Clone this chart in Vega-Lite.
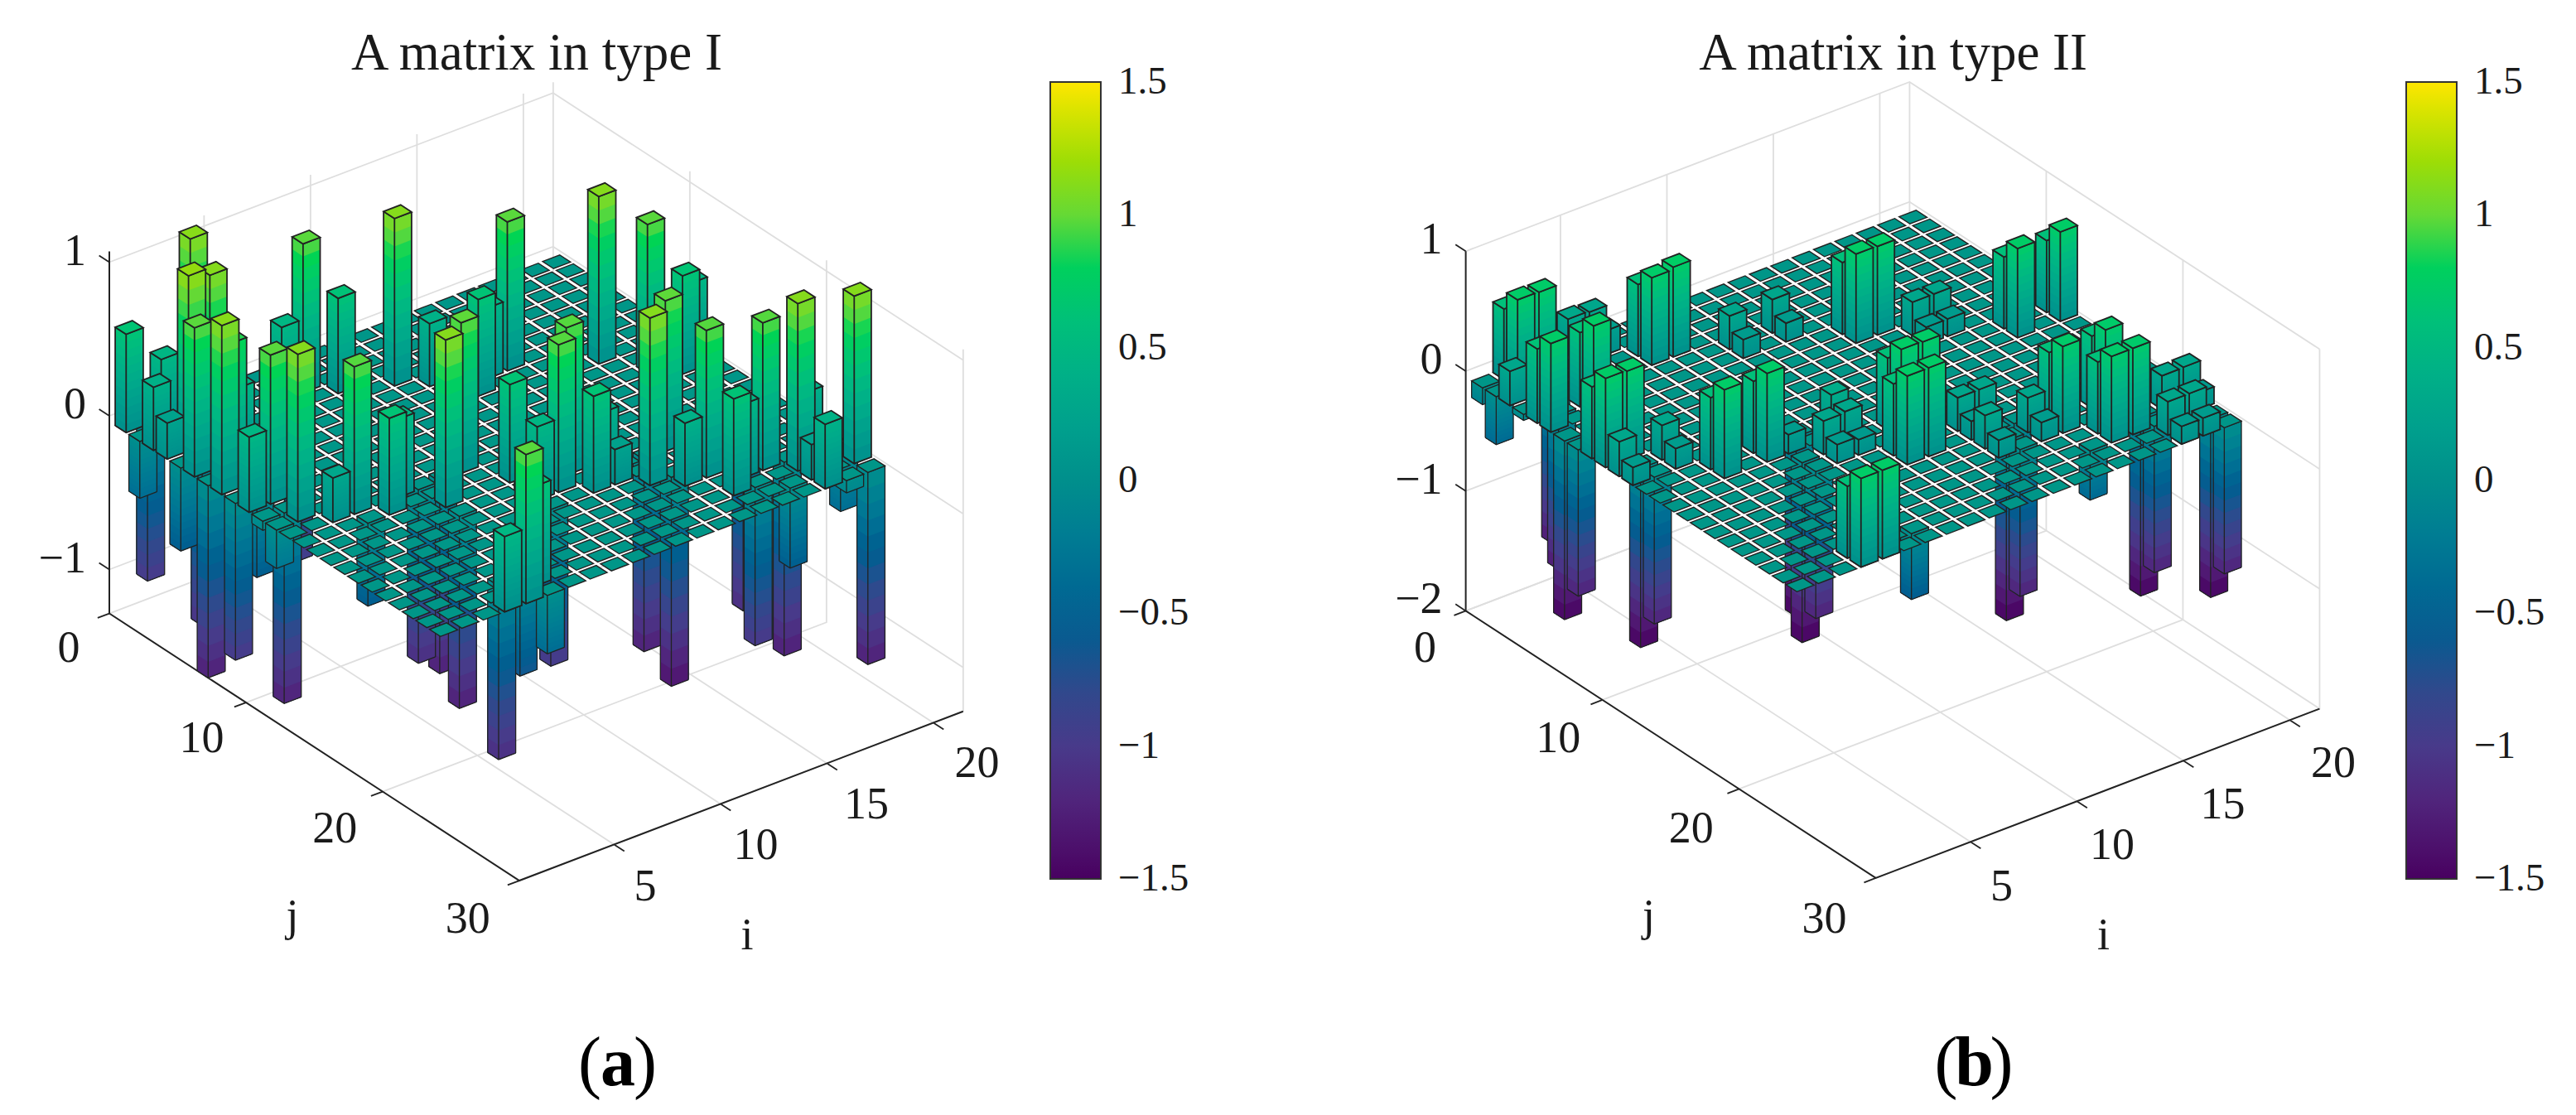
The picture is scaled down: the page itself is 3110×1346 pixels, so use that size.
{"$schema":"https://vega.github.io/schema/vega-lite/v6.json","width":3110,"height":1346,"padding":0,"autosize":{"type":"none"},"background":"white","config":{"view":{"stroke":null}},
"data":{"name":"bars"},
"transform":[
{"calculate":"[0,1,2,3,4,5,6,7,8,9,10,11,12,13]","as":"k"},{"flatten":["k"]},
{"calculate":"datum.p=='a'?139.5:1777.1","as":"X0"},{"calculate":"datum.p=='a'?503.3:449.3","as":"Y0"},{"calculate":"datum.p=='a'?185.5:144.7","as":"ZU"},
{"calculate":"datum.X0+25.8*datum.i+16.5*datum.j","as":"cx"},{"calculate":"datum.Y0-9.9*datum.i+10.7*datum.j","as":"cy"},
{"calculate":"datum.cx-16.92","as":"xl"},{"calculate":"datum.cx-3.72","as":"xf"},{"calculate":"datum.cx+16.92","as":"xr"},{"calculate":"datum.cx+3.72","as":"xb"},
{"calculate":"datum.cy-datum.ZU*(datum.k<12?datum.v*datum.k/12:0)","as":"y0"},{"calculate":"datum.cy-datum.ZU*datum.v","as":"y1"},
{"calculate":"datum.k<12?datum.v*(datum.k+0.5)/12:datum.v","as":"cv"},
{"calculate":"((20-datum.i)*100+datum.j)*100+datum.k","as":"ord"},
{"calculate":"datum.k<12?{type:'Feature',properties:{},geometry:{type:'Polygon',coordinates:[[[datum.xl,datum.y0-0.32],[datum.xf,datum.y0+8.24],[datum.xr,datum.y0+0.32],[datum.xr,datum.y1+0.32],[datum.xf,datum.y1+8.24],[datum.xl,datum.y1-0.32],[datum.xl,datum.y0-0.32]]]}}:datum.k==12?{type:'Feature',properties:{},geometry:{type:'MultiLineString',coordinates:[[[datum.xl,datum.y0-0.32],[datum.xf,datum.y0+8.24],[datum.xr,datum.y0+0.32],[datum.xr,datum.y1+0.32]],[[datum.xl,datum.y0-0.32],[datum.xl,datum.y1-0.32]],[[datum.xf,datum.y0+8.24],[datum.xf,datum.y1+8.24]],[[datum.xl,datum.y1-0.32],[datum.xf,datum.y1+8.24],[datum.xr,datum.y1+0.32]]]}}:{type:'Feature',properties:{},geometry:{type:'Polygon',coordinates:[[[datum.xl,datum.y1-0.32],[datum.xf,datum.y1+8.24],[datum.xr,datum.y1+0.32],[datum.xb,datum.y1-8.24],[datum.xl,datum.y1-0.32]]]}}","as":"geo"}
],
"resolve":{"scale":{"fill":"independent"},"legend":{"fill":"independent"}},
"layer":[
{"data":{"name":"axes"},
"transform":[{"filter":"datum.ax=='i'||datum.ax=='j'||datum.ax=='z'"},
{"calculate":"[0,1]","as":"g"},{"flatten":["g"]},
{"calculate":"datum.p=='a'?132:1769.6","as":"OX"},{"calculate":"datum.p=='a'?502:448","as":"OY"},{"calculate":"datum.p=='a'?185.5:144.7","as":"ZU"},{"calculate":"datum.p=='a'?-1.286:-2","as":"ZB"},{"calculate":"datum.p=='a'?1.07:1.0","as":"ZT"},
{"calculate":"datum.ax=='i'?datum.t:0.55","as":"i1"},{"calculate":"datum.ax=='i'?30:datum.ax=='j'?datum.t:0","as":"j1"},{"calculate":"datum.ax=='z'?datum.t:datum.ZB","as":"z1"},
{"calculate":"datum.ax=='i'?datum.t:21.4","as":"i2"},{"calculate":"datum.ax=='i'?0:datum.ax=='j'?datum.t:0","as":"j2"},
{"calculate":"datum.ax=='j'?datum.t:datum.ax=='z'?30:0","as":"j3"},{"calculate":"datum.ax=='z'?datum.t:datum.ZT","as":"z3"},
{"calculate":"datum.ax=='i'?datum.i1:datum.ax=='j'?0:datum.i1","as":"i4"},{"calculate":"datum.ax=='i'?30.75:datum.ax=='j'?datum.t:-0.75","as":"j4"},
{"calculate":"datum.OX+25.7*(datum.i1-0.55)+16.5*datum.j1","as":"x1"},{"calculate":"datum.OY-9.8*(datum.i1-0.55)+10.75*datum.j1-datum.ZU*datum.z1","as":"y1"},
{"calculate":"datum.OX+25.7*(datum.i2-0.55)+16.5*datum.j2","as":"x2"},{"calculate":"datum.OY-9.8*(datum.i2-0.55)+10.75*datum.j2-datum.ZU*datum.z1","as":"y2"},
{"calculate":"datum.OX+25.7*(datum.i2-0.55)+16.5*datum.j3","as":"x3"},{"calculate":"datum.OY-9.8*(datum.i2-0.55)+10.75*datum.j3-datum.ZU*datum.z3","as":"y3"},
{"calculate":"datum.OX+25.7*(datum.i4-0.55)+16.5*datum.j4","as":"x4"},{"calculate":"datum.OY-9.8*(datum.i4-0.55)+10.75*datum.j4-datum.ZU*datum.z1","as":"y4"},
{"calculate":"datum.g==0?{type:'Feature',properties:{},geometry:{type:'LineString',coordinates:[[datum.x1,datum.y1],[datum.x2,datum.y2],[datum.x3,datum.y3]]}}:{type:'Feature',properties:{},geometry:{type:'LineString',coordinates:[[datum.x1,datum.y1],[datum.x4,datum.y4]]}}","as":"geo"}],
"mark":{"type":"geoshape","filled":false,"strokeWidth":1.8},
"projection":{"type":"identity","scale":1,"translate":[0,0]},
"encoding":{"shape":{"field":"geo","type":"geojson"},"stroke":{"condition":{"test":"datum.g==1","value":"#222222"},"value":"#dedede"}}},
{"data":{"name":"axes"},
"transform":[{"filter":"datum.ax=='f'"},
{"calculate":"datum.p=='a'?132:1769.6","as":"OX"},{"calculate":"datum.p=='a'?502:448","as":"OY"},{"calculate":"datum.p=='a'?185.5:144.7","as":"ZU"},{"calculate":"datum.p=='a'?-1.286:-2","as":"ZB"},{"calculate":"datum.p=='a'?1.07:1.0","as":"ZT"},
{"calculate":"datum.OY-datum.ZU*datum.ZB","as":"YB"},
{"calculate":"{type:'Feature',properties:{},geometry:{type:'LineString',coordinates:[[datum.OX,datum.OY-datum.ZU*datum.ZT],[datum.OX,datum.YB],[datum.OX+495,datum.YB+322.5],[datum.OX+495+535.8,datum.YB+322.5-204.3]]}}","as":"geo"}],
"mark":{"type":"geoshape","filled":false,"strokeWidth":2,"stroke":"#222222"},
"projection":{"type":"identity","scale":1,"translate":[0,0]},
"encoding":{"shape":{"field":"geo","type":"geojson"}}},
{"transform":[{"filter":"datum.v<0&&datum.k<13"}],
"mark":{"type":"geoshape","strokeWidth":1.3},
"projection":{"type":"identity","scale":1,"translate":[0,0]},
"encoding":{"shape":{"field":"geo","type":"geojson"},"order":{"field":"ord","type":"quantitative"},
"fill":{"condition":{"test":"datum.k==12","value":"transparent"},"field":"cv","type":"quantitative","legend":null,"scale":{"domain":[-1.5,-1.25,-1,-0.8,-0.6,-0.5,0,0.5,0.85,0.95,1.12,1.25,1.5],"range":["#480060","#521E78","#483A8A","#31488C","#0A5A90","#006090","#008F8C","#00B882","#00D454","#50D840","#8FDB10","#A6DE00","#FFE600"]}},
"stroke":{"condition":{"test":"datum.k>=12","value":"#222222"},"value":"transparent"}}},
{"data":{"name":"grid"},
"transform":[{"calculate":"['a','b']","as":"p"},{"flatten":["p"]},
{"calculate":"(datum.p=='a'?139.5:1777.1)+25.8*datum.i+16.5*datum.j","as":"cx"},{"calculate":"(datum.p=='a'?503.3:449.3)-9.9*datum.i+10.7*datum.j","as":"cy"},
{"calculate":"{type:'Feature',properties:{},geometry:{type:'Polygon',coordinates:[[[datum.cx-16.92,datum.cy-0.32],[datum.cx-3.72,datum.cy+8.24],[datum.cx+16.92,datum.cy+0.32],[datum.cx+3.72,datum.cy-8.24],[datum.cx-16.92,datum.cy-0.32]]]}}","as":"geo"}],
"mark":{"type":"geoshape","fill":"#009688","stroke":"#222222","strokeWidth":1.4},
"projection":{"type":"identity","scale":1,"translate":[0,0]},
"encoding":{"shape":{"field":"geo","type":"geojson"}}},
{"transform":[{"filter":"datum.v>0&&datum.p=='a'"}],
"mark":{"type":"geoshape","strokeWidth":1.8},
"projection":{"type":"identity","scale":1,"translate":[0,0]},
"encoding":{"shape":{"field":"geo","type":"geojson"},"order":{"field":"ord","type":"quantitative"},
"fill":{"condition":{"test":"datum.k==12","value":"transparent"},"field":"cv","type":"quantitative","legend":{"orient":"none","legendX":1268,"legendY":99,"gradientLength":962,"gradientThickness":61,"title":null,"labelOpacity":0,"labelFontSize":1,"values":[-1.5,-1,-0.5,0,0.5,1,1.5],"gradientStrokeColor":"#333333","gradientStrokeWidth":2,"zindex":-1},"scale":{"domain":[-1.5,-1.25,-1,-0.8,-0.6,-0.5,0,0.5,0.85,0.95,1.12,1.25,1.5],"range":["#480060","#521E78","#483A8A","#31488C","#0A5A90","#006090","#008F8C","#00B882","#00D454","#50D840","#8FDB10","#A6DE00","#FFE600"]}},
"stroke":{"condition":{"test":"datum.k>=12","value":"#222222"},"value":"transparent"}}},
{"transform":[{"filter":"datum.v>0&&datum.p=='b'"}],
"mark":{"type":"geoshape","strokeWidth":1.8},
"projection":{"type":"identity","scale":1,"translate":[0,0]},
"encoding":{"shape":{"field":"geo","type":"geojson"},"order":{"field":"ord","type":"quantitative"},
"fill":{"condition":{"test":"datum.k==12","value":"transparent"},"field":"cv","type":"quantitative","legend":{"orient":"none","legendX":2905,"legendY":99,"gradientLength":962,"gradientThickness":61,"title":null,"labelOpacity":0,"labelFontSize":1,"values":[-1.5,-1,-0.5,0,0.5,1,1.5],"gradientStrokeColor":"#333333","gradientStrokeWidth":2,"zindex":-1},"scale":{"domain":[-1.5,-1.25,-1,-0.8,-0.6,-0.5,0,0.5,0.85,0.95,1.12,1.25,1.5],"range":["#480060","#521E78","#483A8A","#31488C","#0A5A90","#006090","#008F8C","#00B882","#00D454","#50D840","#8FDB10","#A6DE00","#FFE600"]}},
"stroke":{"condition":{"test":"datum.k>=12","value":"#222222"},"value":"transparent"}}},
{"data":{"name":"axes"},
"transform":[{"filter":"datum.ax=='c'"},{"calculate":"(datum.p=='a'?1329:2966)","as":"XB"},{"calculate":"99+(1.5-datum.t)/3*962","as":"yc"},
{"calculate":"{type:'Feature',properties:{},geometry:{type:'LineString',coordinates:[[datum.XB-11,datum.yc],[datum.XB,datum.yc]]}}","as":"geo"}],
"mark":{"type":"geoshape","filled":false,"stroke":"#222222","strokeWidth":2},
"projection":{"type":"identity","scale":1,"translate":[0,0]},
"encoding":{"shape":{"field":"geo","type":"geojson"}}},
{"data":{"name":"axes"},
"transform":[{"filter":"datum.lab!=null"},
{"calculate":"datum.p=='a'?132:1769.6","as":"OX"},{"calculate":"datum.p=='a'?502:448","as":"OY"},{"calculate":"datum.p=='a'?185.5:144.7","as":"ZU"},
{"calculate":"datum.ax=='i'?datum.OX+513.5+26.7*datum.t:datum.ax=='j'?datum.OX+16.06*datum.t-49:datum.ax=='z'?datum.OX-28:datum.ax=='c'?(datum.p=='a'?1350:2987):datum.ax=='ni'?datum.OX+770:datum.ax=='nj'?datum.OX+221:datum.ax=='T'?datum.OX+516:datum.ax=='cl'?datum.OX+580:datum.ax=='cm'?datum.OX+614:datum.OX+647","as":"tx"},
{"calculate":"datum.ax=='i'?1120.6-9.93*datum.t:datum.ax=='j'?783+10.9*datum.t:datum.ax=='z'?datum.OY-datum.ZU*datum.t-13:datum.ax=='c'?99+(1.5-datum.t)/3*962:datum.ax=='ni'?1130:datum.ax=='nj'?1107:datum.ax=='T'?65:1285","as":"ty"}],
"encoding":{"x":{"field":"tx","type":"quantitative","scale":{"domain":[0,3110],"range":[0,3110]},"axis":null},"y":{"field":"ty","type":"quantitative","scale":{"domain":[0,1346],"range":[0,1346]},"axis":null},"text":{"field":"lab"}},
"layer":[
{"transform":[{"filter":"datum.ax=='i'||datum.ax=='j'||datum.ax=='ni'||datum.ax=='nj'"}],"mark":{"type":"text","font":"Liberation Serif","fontSize":54,"align":"center","baseline":"middle","color":"#1a1a1a"}},
{"transform":[{"filter":"datum.ax=='z'"}],"mark":{"type":"text","font":"Liberation Serif","fontSize":54,"align":"right","baseline":"middle","color":"#1a1a1a"}},
{"transform":[{"filter":"datum.ax=='c'"}],"mark":{"type":"text","font":"Liberation Serif","fontSize":47,"align":"left","baseline":"middle","color":"#1a1a1a"}},
{"transform":[{"filter":"datum.ax=='T'"}],"mark":{"type":"text","font":"Liberation Serif","fontSize":63,"align":"center","baseline":"middle","color":"#1a1a1a"}},
{"transform":[{"filter":"datum.ax=='cl'||datum.ax=='cr'"}],"mark":{"type":"text","font":"Liberation Serif","fontSize":84,"align":"center","baseline":"middle","color":"#000000"}},
{"transform":[{"filter":"datum.ax=='cm'"}],"mark":{"type":"text","font":"Liberation Serif","fontSize":84,"fontWeight":"bold","align":"center","baseline":"middle","color":"#000000"}}
]}
],
"datasets":{
"axes":[
{"p":"a","ax":"f"},{"p":"b","ax":"f"},
{"p":"a","ax":"i","t":5,"lab":"5"},{"p":"a","ax":"i","t":10,"lab":"10"},{"p":"a","ax":"i","t":15,"lab":"15"},{"p":"a","ax":"i","t":20,"lab":"20"},
{"p":"a","ax":"j","t":0,"lab":"0"},{"p":"a","ax":"j","t":10,"lab":"10"},{"p":"a","ax":"j","t":20,"lab":"20"},{"p":"a","ax":"j","t":30,"lab":"30"},
{"p":"a","ax":"z","t":-1,"lab":"−1"},{"p":"a","ax":"z","t":0,"lab":"0"},{"p":"a","ax":"z","t":1,"lab":"1"},
{"p":"b","ax":"i","t":5,"lab":"5"},{"p":"b","ax":"i","t":10,"lab":"10"},{"p":"b","ax":"i","t":15,"lab":"15"},{"p":"b","ax":"i","t":20,"lab":"20"},
{"p":"b","ax":"j","t":0,"lab":"0"},{"p":"b","ax":"j","t":10,"lab":"10"},{"p":"b","ax":"j","t":20,"lab":"20"},{"p":"b","ax":"j","t":30,"lab":"30"},
{"p":"b","ax":"z","t":-2,"lab":"−2"},{"p":"b","ax":"z","t":-1,"lab":"−1"},{"p":"b","ax":"z","t":0,"lab":"0"},{"p":"b","ax":"z","t":1,"lab":"1"},
{"p":"a","ax":"c","t":-1.5,"lab":"−1.5"},{"p":"a","ax":"c","t":-1,"lab":"−1"},{"p":"a","ax":"c","t":-0.5,"lab":"−0.5"},{"p":"a","ax":"c","t":0,"lab":"0"},{"p":"a","ax":"c","t":0.5,"lab":"0.5"},{"p":"a","ax":"c","t":1,"lab":"1"},{"p":"a","ax":"c","t":1.5,"lab":"1.5"},
{"p":"b","ax":"c","t":-1.5,"lab":"−1.5"},{"p":"b","ax":"c","t":-1,"lab":"−1"},{"p":"b","ax":"c","t":-0.5,"lab":"−0.5"},{"p":"b","ax":"c","t":0,"lab":"0"},{"p":"b","ax":"c","t":0.5,"lab":"0.5"},{"p":"b","ax":"c","t":1,"lab":"1"},{"p":"b","ax":"c","t":1.5,"lab":"1.5"},
{"p":"a","ax":"ni","lab":"i"},{"p":"a","ax":"nj","lab":"j"},{"p":"b","ax":"ni","lab":"i"},{"p":"b","ax":"nj","lab":"j"},
{"p":"a","ax":"T","lab":"A matrix in type I"},{"p":"b","ax":"T","lab":"A matrix in type II"},
{"p":"a","ax":"cl","lab":"("},{"p":"a","ax":"cm","lab":"a"},{"p":"a","ax":"cr","lab":")"},
{"p":"b","ax":"cl","lab":"("},{"p":"b","ax":"cm","lab":"b"},{"p":"b","ax":"cr","lab":")"}
],
"bars":[
{"p":"a","i":0,"j":1,"v":0.64},{"p":"a","i":1,"j":2,"v":0.48},{"p":"a","i":0,"j":3,"v":0.41},{"p":"a","i":0,"j":4,"v":0.235},{"p":"a","i":1,"j":4,"v":1.14},{"p":"a","i":2,"j":4,"v":1.09},{"p":"a","i":3,"j":1,"v":1.1},{"p":"a","i":0,"j":6,"v":0.97},{"p":"a","i":0,"j":8,"v":1.1},{"p":"a","i":1,"j":7,"v":0.87},{"p":"a","i":2,"j":6,"v":0.47},{"p":"a","i":1,"j":10,"v":0.97},{"p":"a","i":1,"j":12,"v":1.09},{"p":"a","i":0,"j":10,"v":0.49},{"p":"a","i":2,"j":13,"v":0.29},{"p":"a","i":3,"j":13,"v":0.96},{"p":"a","i":7,"j":3,"v":0.97},{"p":"a","i":6,"j":3,"v":0.48},{"p":"a","i":8,"j":4,"v":0.62},{"p":"a","i":10,"j":5,"v":1.09},{"p":"a","i":4,"j":14,"v":0.63},{"p":"a","i":5,"j":13,"v":0.51},{"p":"a","i":11,"j":6,"v":0.41},{"p":"a","i":8,"j":13,"v":0.98},{"p":"a","i":6,"j":15,"v":1.09},{"p":"a","i":12,"j":8,"v":0.63},{"p":"a","i":13,"j":7,"v":0.46},{"p":"a","i":14,"j":7,"v":0.97},{"p":"a","i":9,"j":15,"v":0.64},{"p":"a","i":4,"j":24,"v":0.97},{"p":"a","i":3,"j":24,"v":0.49},{"p":"a","i":17,"j":9,"v":1.09},{"p":"a","i":18,"j":11,"v":0.97},{"p":"a","i":19,"j":12,"v":0.64},{"p":"a","i":20,"j":11,"v":0.48},{"p":"a","i":15,"j":17,"v":0.98},{"p":"a","i":13,"j":19,"v":1.09},{"p":"a","i":15,"j":20,"v":0.96},{"p":"a","i":17,"j":21,"v":0.96},{"p":"a","i":18,"j":22,"v":1.09},{"p":"a","i":20,"j":23,"v":1.09},{"p":"a","i":15,"j":22,"v":0.63},{"p":"a","i":16,"j":21,"v":0.48},{"p":"a","i":14,"j":20,"v":0.41},{"p":"a","i":18,"j":24,"v":0.42},{"p":"a","i":18,"j":23,"v":0.23},{"p":"a","i":19,"j":21,"v":0.4},{"p":"a","i":12,"j":18,"v":0.23},{"p":"a","i":11,"j":18,"v":0.63},{"p":"a","i":12,"j":17,"v":0.41},{"p":"a","i":10,"j":17,"v":0.96},{"p":"a","i":11,"j":16,"v":0.96},{"p":"a","i":9,"j":17,"v":0.48},{"p":"a","i":5,"j":23,"v":0.65},
{"p":"a","i":0,"j":2,"v":-0.37},{"p":"a","i":1,"j":1,"v":-1.02},{"p":"a","i":0,"j":5,"v":-0.54},{"p":"a","i":1,"j":5,"v":-1.08},{"p":"a","i":0,"j":7,"v":-1.25},{"p":"a","i":0,"j":9,"v":-1.02},{"p":"a","i":1,"j":9,"v":-0.535},{"p":"a","i":0,"j":11,"v":-0.06},{"p":"a","i":0,"j":12,"v":-0.25},{"p":"a","i":1,"j":11,"v":-1.24},{"p":"a","i":6,"j":4,"v":-0.99},{"p":"a","i":3,"j":14,"v":-0.54},{"p":"a","i":6,"j":13,"v":-1.13},{"p":"a","i":7,"j":13,"v":-1.25},{"p":"a","i":6,"j":16,"v":-1.25},{"p":"a","i":4,"j":22,"v":-1.13},{"p":"a","i":5,"j":22,"v":-0.64},{"p":"a","i":5,"j":24,"v":-0.38},{"p":"a","i":9,"j":18,"v":-1.02},{"p":"a","i":11,"j":13,"v":-1.22},{"p":"a","i":14,"j":17,"v":-1.25},{"p":"a","i":14,"j":19,"v":-1.36},{"p":"a","i":18,"j":18,"v":-1.14},{"p":"a","i":16,"j":22,"v":-1.03},{"p":"a","i":18,"j":21,"v":-1.26},{"p":"a","i":17,"j":23,"v":-0.52},{"p":"a","i":20,"j":22,"v":-0.37},{"p":"a","i":19,"j":24,"v":-0.08},{"p":"a","i":20,"j":24,"v":-1.25},
{"p":"b","i":1,"j":1,"v":0.59},{"p":"b","i":1,"j":2,"v":0.74},{"p":"b","i":2,"j":2,"v":0.735},{"p":"b","i":4,"j":1,"v":0.3},{"p":"b","i":5,"j":1,"v":0.29},{"p":"b","i":6,"j":3,"v":0.6},{"p":"b","i":6,"j":4,"v":0.73},{"p":"b","i":7,"j":4,"v":0.75},{"p":"b","i":0,"j":5,"v":0.62},{"p":"b","i":0,"j":6,"v":0.74},{"p":"b","i":2,"j":5,"v":0.62},{"p":"b","i":2,"j":6,"v":0.75},{"p":"b","i":0,"j":9,"v":0.6},{"p":"b","i":0,"j":10,"v":0.745},{"p":"b","i":1,"j":10,"v":0.737},{"p":"b","i":0,"j":3,"v":0.286},{"p":"b","i":0,"j":11,"v":0.29},{"p":"b","i":0,"j":12,"v":0.15},{"p":"b","i":3,"j":13,"v":0.6},{"p":"b","i":3,"j":14,"v":0.74},{"p":"b","i":5,"j":13,"v":0.6},{"p":"b","i":5,"j":14,"v":0.74},{"p":"b","i":2,"j":11,"v":0.29},{"p":"b","i":2,"j":12,"v":0.17},{"p":"b","i":9,"j":5,"v":0.28},{"p":"b","i":9,"j":6,"v":0.156},{"p":"b","i":11,"j":5,"v":0.28},{"p":"b","i":11,"j":6,"v":0.157},{"p":"b","i":8,"j":14,"v":0.355},{"p":"b","i":7,"j":15,"v":0.28},{"p":"b","i":8,"j":15,"v":0.29},{"p":"b","i":7,"j":16,"v":0.157},{"p":"b","i":8,"j":16,"v":0.13},{"p":"b","i":6,"j":14,"v":0.16},{"p":"b","i":13,"j":7,"v":0.6},{"p":"b","i":13,"j":8,"v":0.745},{"p":"b","i":14,"j":8,"v":0.74},{"p":"b","i":9,"j":17,"v":0.6},{"p":"b","i":9,"j":18,"v":0.74},{"p":"b","i":10,"j":18,"v":0.74},{"p":"b","i":10,"j":15,"v":0.6},{"p":"b","i":10,"j":16,"v":0.746},{"p":"b","i":11,"j":16,"v":0.74},{"p":"b","i":18,"j":11,"v":0.6},{"p":"b","i":18,"j":12,"v":0.744},{"p":"b","i":20,"j":11,"v":0.6},{"p":"b","i":20,"j":12,"v":0.746},{"p":"b","i":15,"j":19,"v":0.6},{"p":"b","i":15,"j":20,"v":0.724},{"p":"b","i":16,"j":21,"v":0.6},{"p":"b","i":16,"j":22,"v":0.72},{"p":"b","i":17,"j":22,"v":0.72},{"p":"b","i":17,"j":19,"v":0.6},{"p":"b","i":17,"j":20,"v":0.725},{"p":"b","i":14,"j":19,"v":0.29},{"p":"b","i":14,"j":20,"v":0.158},{"p":"b","i":19,"j":21,"v":0.28},{"p":"b","i":20,"j":21,"v":0.283},{"p":"b","i":18,"j":23,"v":0.28},{"p":"b","i":19,"j":23,"v":0.28},{"p":"b","i":20,"j":22,"v":0.14},{"p":"b","i":18,"j":24,"v":0.147},{"p":"b","i":19,"j":24,"v":0.148},{"p":"b","i":12,"j":19,"v":0.28},{"p":"b","i":12,"j":17,"v":0.28},{"p":"b","i":13,"j":17,"v":0.28},{"p":"b","i":12,"j":18,"v":0.157},{"p":"b","i":12,"j":20,"v":0.146},{"p":"b","i":15,"j":9,"v":0.28},{"p":"b","i":16,"j":9,"v":0.28},{"p":"b","i":15,"j":10,"v":0.145},{"p":"b","i":16,"j":10,"v":0.146},{"p":"b","i":5,"j":2,"v":0.2},{"p":"b","i":3,"j":23,"v":0.6},{"p":"b","i":3,"j":24,"v":0.74},{"p":"b","i":4,"j":24,"v":0.74},
{"p":"b","i":0,"j":1,"v":-0.14},{"p":"b","i":0,"j":2,"v":-0.4},{"p":"b","i":0,"j":4,"v":-0.05},{"p":"b","i":2,"j":3,"v":-1.29},{"p":"b","i":1,"j":5,"v":-1.29},{"p":"b","i":0,"j":7,"v":-1.49},{"p":"b","i":0,"j":8,"v":-1.22},{"p":"b","i":1,"j":11,"v":-1.496},{"p":"b","i":1,"j":12,"v":-1.225},{"p":"b","i":6,"j":15,"v":-1.5},{"p":"b","i":6,"j":16,"v":-1.226},{"p":"b","i":7,"j":13,"v":-1.5},{"p":"b","i":6,"j":23,"v":-0.55},{"p":"b","i":13,"j":19,"v":-1.5},{"p":"b","i":14,"j":18,"v":-1.43},{"p":"b","i":13,"j":20,"v":-1.225},{"p":"b","i":15,"j":22,"v":-0.41},{"p":"b","i":18,"j":21,"v":-1.49},{"p":"b","i":18,"j":22,"v":-1.22},{"p":"b","i":20,"j":23,"v":-1.49},{"p":"b","i":20,"j":24,"v":-1.22}
],
"grid":[
{"i":0,"j":1},{"i":0,"j":2},{"i":0,"j":3},{"i":0,"j":4},{"i":0,"j":5},{"i":0,"j":6},{"i":0,"j":7},{"i":0,"j":8},{"i":0,"j":9},{"i":0,"j":10},{"i":0,"j":11},{"i":0,"j":12},{"i":0,"j":13},{"i":0,"j":14},{"i":0,"j":15},{"i":0,"j":16},{"i":0,"j":17},{"i":0,"j":18},{"i":0,"j":19},{"i":0,"j":20},{"i":0,"j":21},{"i":0,"j":22},{"i":0,"j":23},{"i":0,"j":24},
{"i":1,"j":1},{"i":1,"j":2},{"i":1,"j":3},{"i":1,"j":4},{"i":1,"j":5},{"i":1,"j":6},{"i":1,"j":7},{"i":1,"j":8},{"i":1,"j":9},{"i":1,"j":10},{"i":1,"j":11},{"i":1,"j":12},{"i":1,"j":13},{"i":1,"j":14},{"i":1,"j":15},{"i":1,"j":16},{"i":1,"j":17},{"i":1,"j":18},{"i":1,"j":19},{"i":1,"j":20},{"i":1,"j":21},{"i":1,"j":22},{"i":1,"j":23},{"i":1,"j":24},
{"i":2,"j":1},{"i":2,"j":2},{"i":2,"j":3},{"i":2,"j":4},{"i":2,"j":5},{"i":2,"j":6},{"i":2,"j":7},{"i":2,"j":8},{"i":2,"j":9},{"i":2,"j":10},{"i":2,"j":11},{"i":2,"j":12},{"i":2,"j":13},{"i":2,"j":14},{"i":2,"j":15},{"i":2,"j":16},{"i":2,"j":17},{"i":2,"j":18},{"i":2,"j":19},{"i":2,"j":20},{"i":2,"j":21},{"i":2,"j":22},{"i":2,"j":23},{"i":2,"j":24},
{"i":3,"j":1},{"i":3,"j":2},{"i":3,"j":3},{"i":3,"j":4},{"i":3,"j":5},{"i":3,"j":6},{"i":3,"j":7},{"i":3,"j":8},{"i":3,"j":9},{"i":3,"j":10},{"i":3,"j":11},{"i":3,"j":12},{"i":3,"j":13},{"i":3,"j":14},{"i":3,"j":15},{"i":3,"j":16},{"i":3,"j":17},{"i":3,"j":18},{"i":3,"j":19},{"i":3,"j":20},{"i":3,"j":21},{"i":3,"j":22},{"i":3,"j":23},{"i":3,"j":24},
{"i":4,"j":1},{"i":4,"j":2},{"i":4,"j":3},{"i":4,"j":4},{"i":4,"j":5},{"i":4,"j":6},{"i":4,"j":7},{"i":4,"j":8},{"i":4,"j":9},{"i":4,"j":10},{"i":4,"j":11},{"i":4,"j":12},{"i":4,"j":13},{"i":4,"j":14},{"i":4,"j":15},{"i":4,"j":16},{"i":4,"j":17},{"i":4,"j":18},{"i":4,"j":19},{"i":4,"j":20},{"i":4,"j":21},{"i":4,"j":22},{"i":4,"j":23},{"i":4,"j":24},
{"i":5,"j":1},{"i":5,"j":2},{"i":5,"j":3},{"i":5,"j":4},{"i":5,"j":5},{"i":5,"j":6},{"i":5,"j":7},{"i":5,"j":8},{"i":5,"j":9},{"i":5,"j":10},{"i":5,"j":11},{"i":5,"j":12},{"i":5,"j":13},{"i":5,"j":14},{"i":5,"j":15},{"i":5,"j":16},{"i":5,"j":17},{"i":5,"j":18},{"i":5,"j":19},{"i":5,"j":20},{"i":5,"j":21},{"i":5,"j":22},{"i":5,"j":23},{"i":5,"j":24},
{"i":6,"j":1},{"i":6,"j":2},{"i":6,"j":3},{"i":6,"j":4},{"i":6,"j":5},{"i":6,"j":6},{"i":6,"j":7},{"i":6,"j":8},{"i":6,"j":9},{"i":6,"j":10},{"i":6,"j":11},{"i":6,"j":12},{"i":6,"j":13},{"i":6,"j":14},{"i":6,"j":15},{"i":6,"j":16},{"i":6,"j":17},{"i":6,"j":18},{"i":6,"j":19},{"i":6,"j":20},{"i":6,"j":21},{"i":6,"j":22},{"i":6,"j":23},{"i":6,"j":24},
{"i":7,"j":1},{"i":7,"j":2},{"i":7,"j":3},{"i":7,"j":4},{"i":7,"j":5},{"i":7,"j":6},{"i":7,"j":7},{"i":7,"j":8},{"i":7,"j":9},{"i":7,"j":10},{"i":7,"j":11},{"i":7,"j":12},{"i":7,"j":13},{"i":7,"j":14},{"i":7,"j":15},{"i":7,"j":16},{"i":7,"j":17},{"i":7,"j":18},{"i":7,"j":19},{"i":7,"j":20},{"i":7,"j":21},{"i":7,"j":22},{"i":7,"j":23},{"i":7,"j":24},
{"i":8,"j":1},{"i":8,"j":2},{"i":8,"j":3},{"i":8,"j":4},{"i":8,"j":5},{"i":8,"j":6},{"i":8,"j":7},{"i":8,"j":8},{"i":8,"j":9},{"i":8,"j":10},{"i":8,"j":11},{"i":8,"j":12},{"i":8,"j":13},{"i":8,"j":14},{"i":8,"j":15},{"i":8,"j":16},{"i":8,"j":17},{"i":8,"j":18},{"i":8,"j":19},{"i":8,"j":20},{"i":8,"j":21},{"i":8,"j":22},{"i":8,"j":23},{"i":8,"j":24},
{"i":9,"j":1},{"i":9,"j":2},{"i":9,"j":3},{"i":9,"j":4},{"i":9,"j":5},{"i":9,"j":6},{"i":9,"j":7},{"i":9,"j":8},{"i":9,"j":9},{"i":9,"j":10},{"i":9,"j":11},{"i":9,"j":12},{"i":9,"j":13},{"i":9,"j":14},{"i":9,"j":15},{"i":9,"j":16},{"i":9,"j":17},{"i":9,"j":18},{"i":9,"j":19},{"i":9,"j":20},{"i":9,"j":21},{"i":9,"j":22},{"i":9,"j":23},{"i":9,"j":24},
{"i":10,"j":1},{"i":10,"j":2},{"i":10,"j":3},{"i":10,"j":4},{"i":10,"j":5},{"i":10,"j":6},{"i":10,"j":7},{"i":10,"j":8},{"i":10,"j":9},{"i":10,"j":10},{"i":10,"j":11},{"i":10,"j":12},{"i":10,"j":13},{"i":10,"j":14},{"i":10,"j":15},{"i":10,"j":16},{"i":10,"j":17},{"i":10,"j":18},{"i":10,"j":19},{"i":10,"j":20},{"i":10,"j":21},{"i":10,"j":22},{"i":10,"j":23},{"i":10,"j":24},
{"i":11,"j":1},{"i":11,"j":2},{"i":11,"j":3},{"i":11,"j":4},{"i":11,"j":5},{"i":11,"j":6},{"i":11,"j":7},{"i":11,"j":8},{"i":11,"j":9},{"i":11,"j":10},{"i":11,"j":11},{"i":11,"j":12},{"i":11,"j":13},{"i":11,"j":14},{"i":11,"j":15},{"i":11,"j":16},{"i":11,"j":17},{"i":11,"j":18},{"i":11,"j":19},{"i":11,"j":20},{"i":11,"j":21},{"i":11,"j":22},{"i":11,"j":23},{"i":11,"j":24},
{"i":12,"j":1},{"i":12,"j":2},{"i":12,"j":3},{"i":12,"j":4},{"i":12,"j":5},{"i":12,"j":6},{"i":12,"j":7},{"i":12,"j":8},{"i":12,"j":9},{"i":12,"j":10},{"i":12,"j":11},{"i":12,"j":12},{"i":12,"j":13},{"i":12,"j":14},{"i":12,"j":15},{"i":12,"j":16},{"i":12,"j":17},{"i":12,"j":18},{"i":12,"j":19},{"i":12,"j":20},{"i":12,"j":21},{"i":12,"j":22},{"i":12,"j":23},{"i":12,"j":24},
{"i":13,"j":1},{"i":13,"j":2},{"i":13,"j":3},{"i":13,"j":4},{"i":13,"j":5},{"i":13,"j":6},{"i":13,"j":7},{"i":13,"j":8},{"i":13,"j":9},{"i":13,"j":10},{"i":13,"j":11},{"i":13,"j":12},{"i":13,"j":13},{"i":13,"j":14},{"i":13,"j":15},{"i":13,"j":16},{"i":13,"j":17},{"i":13,"j":18},{"i":13,"j":19},{"i":13,"j":20},{"i":13,"j":21},{"i":13,"j":22},{"i":13,"j":23},{"i":13,"j":24},
{"i":14,"j":1},{"i":14,"j":2},{"i":14,"j":3},{"i":14,"j":4},{"i":14,"j":5},{"i":14,"j":6},{"i":14,"j":7},{"i":14,"j":8},{"i":14,"j":9},{"i":14,"j":10},{"i":14,"j":11},{"i":14,"j":12},{"i":14,"j":13},{"i":14,"j":14},{"i":14,"j":15},{"i":14,"j":16},{"i":14,"j":17},{"i":14,"j":18},{"i":14,"j":19},{"i":14,"j":20},{"i":14,"j":21},{"i":14,"j":22},{"i":14,"j":23},{"i":14,"j":24},
{"i":15,"j":1},{"i":15,"j":2},{"i":15,"j":3},{"i":15,"j":4},{"i":15,"j":5},{"i":15,"j":6},{"i":15,"j":7},{"i":15,"j":8},{"i":15,"j":9},{"i":15,"j":10},{"i":15,"j":11},{"i":15,"j":12},{"i":15,"j":13},{"i":15,"j":14},{"i":15,"j":15},{"i":15,"j":16},{"i":15,"j":17},{"i":15,"j":18},{"i":15,"j":19},{"i":15,"j":20},{"i":15,"j":21},{"i":15,"j":22},{"i":15,"j":23},{"i":15,"j":24},
{"i":16,"j":1},{"i":16,"j":2},{"i":16,"j":3},{"i":16,"j":4},{"i":16,"j":5},{"i":16,"j":6},{"i":16,"j":7},{"i":16,"j":8},{"i":16,"j":9},{"i":16,"j":10},{"i":16,"j":11},{"i":16,"j":12},{"i":16,"j":13},{"i":16,"j":14},{"i":16,"j":15},{"i":16,"j":16},{"i":16,"j":17},{"i":16,"j":18},{"i":16,"j":19},{"i":16,"j":20},{"i":16,"j":21},{"i":16,"j":22},{"i":16,"j":23},{"i":16,"j":24},
{"i":17,"j":1},{"i":17,"j":2},{"i":17,"j":3},{"i":17,"j":4},{"i":17,"j":5},{"i":17,"j":6},{"i":17,"j":7},{"i":17,"j":8},{"i":17,"j":9},{"i":17,"j":10},{"i":17,"j":11},{"i":17,"j":12},{"i":17,"j":13},{"i":17,"j":14},{"i":17,"j":15},{"i":17,"j":16},{"i":17,"j":17},{"i":17,"j":18},{"i":17,"j":19},{"i":17,"j":20},{"i":17,"j":21},{"i":17,"j":22},{"i":17,"j":23},{"i":17,"j":24},
{"i":18,"j":1},{"i":18,"j":2},{"i":18,"j":3},{"i":18,"j":4},{"i":18,"j":5},{"i":18,"j":6},{"i":18,"j":7},{"i":18,"j":8},{"i":18,"j":9},{"i":18,"j":10},{"i":18,"j":11},{"i":18,"j":12},{"i":18,"j":13},{"i":18,"j":14},{"i":18,"j":15},{"i":18,"j":16},{"i":18,"j":17},{"i":18,"j":18},{"i":18,"j":19},{"i":18,"j":20},{"i":18,"j":21},{"i":18,"j":22},{"i":18,"j":23},{"i":18,"j":24},
{"i":19,"j":1},{"i":19,"j":2},{"i":19,"j":3},{"i":19,"j":4},{"i":19,"j":5},{"i":19,"j":6},{"i":19,"j":7},{"i":19,"j":8},{"i":19,"j":9},{"i":19,"j":10},{"i":19,"j":11},{"i":19,"j":12},{"i":19,"j":13},{"i":19,"j":14},{"i":19,"j":15},{"i":19,"j":16},{"i":19,"j":17},{"i":19,"j":18},{"i":19,"j":19},{"i":19,"j":20},{"i":19,"j":21},{"i":19,"j":22},{"i":19,"j":23},{"i":19,"j":24},
{"i":20,"j":1},{"i":20,"j":2},{"i":20,"j":3},{"i":20,"j":4},{"i":20,"j":5},{"i":20,"j":6},{"i":20,"j":7},{"i":20,"j":8},{"i":20,"j":9},{"i":20,"j":10},{"i":20,"j":11},{"i":20,"j":12},{"i":20,"j":13},{"i":20,"j":14},{"i":20,"j":15},{"i":20,"j":16},{"i":20,"j":17},{"i":20,"j":18},{"i":20,"j":19},{"i":20,"j":20},{"i":20,"j":21},{"i":20,"j":22},{"i":20,"j":23},{"i":20,"j":24}
]}}
